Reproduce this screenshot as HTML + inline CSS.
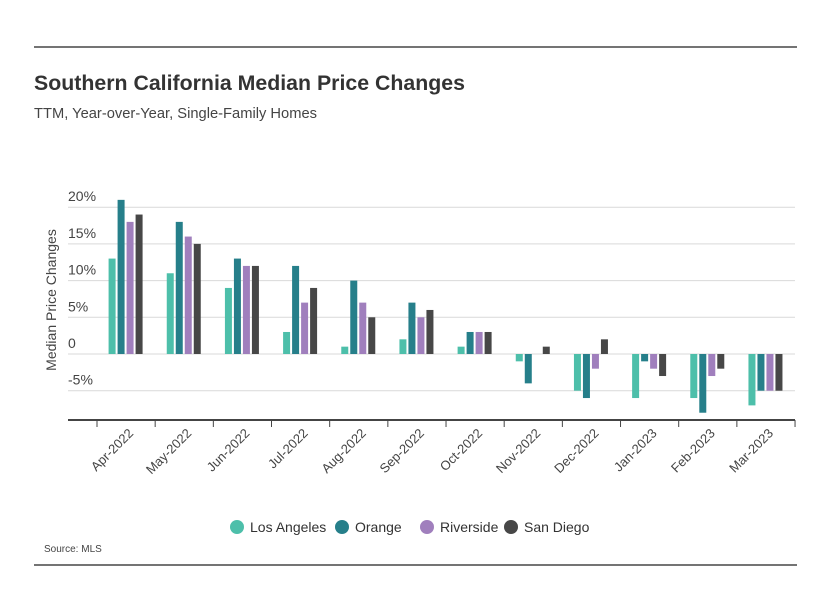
<!DOCTYPE html>
<html><head><meta charset="utf-8"><style>
body{margin:0;background:#fff;font-family:"Liberation Sans",sans-serif;}
svg text{font-family:"Liberation Sans",sans-serif;}
</style></head><body>
<svg id="c" width="830" height="606" viewBox="0 0 830 606">
<line x1="34" y1="47" x2="797" y2="47" stroke="#222" stroke-width="1.2"/>
<line x1="34" y1="565" x2="797" y2="565" stroke="#222" stroke-width="1.2"/>
<text x="34" y="90" font-size="21" font-weight="bold" fill="#333" textLength="431" lengthAdjust="spacingAndGlyphs">Southern California Median Price Changes</text>
<text x="34" y="118" font-size="15" fill="#444" textLength="283" lengthAdjust="spacingAndGlyphs">TTM, Year-over-Year, Single-Family Homes</text>
<text transform="translate(56,300) rotate(-90)" text-anchor="middle" font-size="14" fill="#444">Median Price Changes</text>
<text x="44" y="552" font-size="10" fill="#444">Source:  MLS</text>
<g id="grid"></g><g id="bars"></g><g id="xaxis"></g><g id="legend"></g>
</svg>
<script>
const categories=["Apr-2022","May-2022","Jun-2022","Jul-2022","Aug-2022","Sep-2022","Oct-2022","Nov-2022","Dec-2022","Jan-2023","Feb-2023","Mar-2023"];
const seriesNames=["Los Angeles","Orange","Riverside","San Diego"];
const losAngeles=[13,11,9,3,1,2,1,-1,-5,-6,-6,-7];
const orange=[21,18,13,12,10,7,3,-4,-6,-1,-8,-5];
const riverside=[18,16,12,7,7,5,3,0,-2,-2,-3,-5];
const sanDiego=[19,15,12,9,5,6,3,1,2,-3,-2,-5];
const yTicks=[-5,0,5,10,15,20];
const yTickLabels=["-5%","0","5%","10%","15%","20%"];
const colors=["#4dbfaa","#267f8a","#a07fbd","#474747"];
const NS="http://www.w3.org/2000/svg";
const y=v=>354-v*7.34;
const bandW=58.17, x0=97;
const x=i=>x0+i*bandW;
function mk(t,a,p){const e=document.createElementNS(NS,t);for(const k in a)e.setAttribute(k,a[k]);p.appendChild(e);return e;}
const grid=document.getElementById('grid');
yTicks.forEach((t,i)=>{
 const l=mk('line',{x1:68,x2:795,y1:y(t),y2:y(t),stroke:'#d9d9d9','stroke-width':1},grid);
 
 
 const tx=mk('text',{x:68,y:y(t)-6,'font-size':14,fill:'#444','text-anchor':'start'},grid);
 
 
 tx.textContent=yTickLabels[i];
});
const bars=document.getElementById('bars');
const series=[losAngeles,orange,riverside,sanDiego];
series.forEach((s,si)=>{s.forEach((v,i)=>{
 const bx=x(i)+bandW/2-17.5+si*9;
 const r=mk('rect',{x:bx,y:Math.min(y(v),y(0)),width:7,height:Math.abs(y(v)-y(0)),fill:colors[si]},bars);
 
 
});});
const xa=document.getElementById('xaxis');
const al=mk('line',{x1:68,x2:795,y1:420,y2:420,stroke:'#444','stroke-width':2},xa);


for(let i=0;i<=categories.length;i++){
 const t=mk('line',{x1:x(i),x2:x(i),y1:420,y2:427,stroke:'#444','stroke-width':1},xa);
 
 
}
categories.forEach((c,i)=>{
 const cx=x(i)+bandW/2+8, cy=434;
 const t=mk('text',{x:cx,y:cy,'font-size':13,fill:'#444','text-anchor':'end',transform:`rotate(-45 ${cx} ${cy})`},xa);
 
 
 t.textContent=c;
});
const lg=document.getElementById('legend');
const lx=[237,342,427,511];
seriesNames.forEach((n,i)=>{
 const g=mk('g',{},lg);
 
 
 mk('circle',{cx:lx[i],cy:527,r:7,fill:colors[i]},g);
 const t=mk('text',{x:lx[i]+13,y:532,'font-size':14,fill:'#333'},g);
 t.textContent=n;
});
</script>
</body></html>
